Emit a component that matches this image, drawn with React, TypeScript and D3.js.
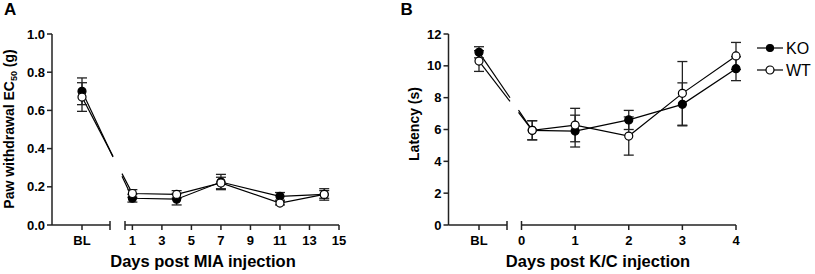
import React from "react";
import * as d3 from "d3";

// Panel A: MIA
const miaX = ["BL", 1, 4, 7, 11, 14];
const miaKO = [0.70, 0.14, 0.135, 0.225, 0.15, 0.16];
const miaKOErr = [0.07, 0.02, 0.03, 0.04, 0.02, 0.03];
const miaWT = [0.67, 0.165, 0.16, 0.22, 0.115, 0.16];
const miaWTErr = [0.075, 0.02, 0.02, 0.03, 0.01, 0.02];
const miaYTicks = [0, 0.2, 0.4, 0.6, 0.8, 1.0];
const miaXTicks = [1, 3, 5, 7, 9, 11, 13, 15];

// Panel B: K/C
const kcX = ["BL", 0.2, 1, 2, 3, 4];
const kcKO = [10.85, 5.95, 5.9, 6.6, 7.58, 9.82];
const kcKOErr = [0.35, 0.6, 1.0, 0.6, 1.35, 0.75];
const kcWT = [10.3, 5.95, 6.28, 5.59, 8.27, 10.62];
const kcWTErr = [0.65, 0.6, 1.05, 1.2, 2.0, 0.85];
const kcYTicks = [0, 2, 4, 6, 8, 10, 12];
const kcXTicks = [0, 1, 2, 3, 4];

const seriesNames = ["KO", "WT"];

const FONT = "Arial, 'Liberation Sans', Helvetica, sans-serif";

type PanelProps = {
  letter: string;
  axisX: number;
  blX: number;
  blEnd: number;
  segStart: number;
  segEnd: number;
  dayDomain: [number, number];
  yDomain: [number, number];
  yTicks: number[];
  yFmt: (v: number) => string;
  xTicks: number[];
  startTick: boolean;
  xs: (string | number)[];
  ko: number[];
  koErr: number[];
  wt: number[];
  wtErr: number[];
  yTitle: React.ReactNode;
  yTitleX: number;
  yTitleY: number;
  xTitle: string;
  xTitleX: number;
};

function Panel(p: PanelProps) {
  const y = d3.scaleLinear().domain(p.yDomain).range([225, 34]);
  const xd = d3.scaleLinear().domain(p.dayDomain).range([p.segStart, p.segEnd]);
  const xOf = (v: string | number) => (v === "BL" ? p.blX : xd(v as number));
  const gapL = p.blEnd + 3;
  const gapR = p.segStart - 3;
  const axisY = 225;
  const stroke = "#222";

  const lineWithGap = (vals: number[], key: string) => {
    const pts = p.xs.map((v, i) => [xOf(v), y(vals[i])] as [number, number]);
    const [x0, y0] = pts[0];
    const [x1, y1] = pts[1];
    const t = (xx: number) => y0 + ((y1 - y0) * (xx - x0)) / (x1 - x0);
    const lg = d3.line();
    return (
      <g key={key}>
        <path d={lg([[x0, y0], [gapL, t(gapL)]])!} stroke="#000" strokeWidth={1.2} fill="none" />
        <path d={lg([[gapR, t(gapR)], ...pts.slice(1)])!} stroke="#000" strokeWidth={1.2} fill="none" />
      </g>
    );
  };

  const errBars = (vals: number[], errs: number[], key: string) =>
    p.xs.map((v, i) => {
      const cx = xOf(v);
      const top = y(vals[i] + errs[i]);
      const bot = y(vals[i] - errs[i]);
      return (
        <g key={key + i} stroke="#222" strokeWidth={1.3}>
          <line x1={cx} x2={cx} y1={top} y2={bot} />
          <line x1={cx - 5} x2={cx + 5} y1={top} y2={top} />
          <line x1={cx - 5} x2={cx + 5} y1={bot} y2={bot} />
        </g>
      );
    });

  const markers = (vals: number[], filled: boolean, key: string) =>
    p.xs.map((v, i) => (
      <circle
        key={key + i}
        cx={xOf(v)}
        cy={y(vals[i])}
        r={4}
        fill={filled ? "#000" : "#fff"}
        stroke="#000"
        strokeWidth={1.2}
      />
    ));

  return (
    <g fontFamily={FONT}>
      <text x={p.axisX - 48} y={15} fontSize={17} fontWeight="bold">{p.letter}</text>
      {/* y axis */}
      <line x1={p.axisX} x2={p.axisX} y1={y(p.yDomain[1])} y2={axisY} stroke={stroke} strokeWidth={1.5} />
      {p.yTicks.map((t) => (
        <g key={"yt" + t}>
          <line x1={p.axisX - 5} x2={p.axisX} y1={y(t)} y2={y(t)} stroke={stroke} strokeWidth={1.5} />
          <text x={p.axisX - 7} y={y(t) + 4.5} textAnchor="end" fontSize={13} fontWeight="bold">{p.yFmt(t)}</text>
        </g>
      ))}
      {/* x axis BL segment */}
      <line x1={p.axisX} x2={p.blEnd} y1={axisY} y2={axisY} stroke={stroke} strokeWidth={1.5} />
      <line x1={p.blX} x2={p.blX} y1={axisY} y2={axisY + 5} stroke={stroke} strokeWidth={1.5} />
      <line x1={p.blEnd} x2={p.blEnd} y1={axisY - 4} y2={axisY + 5} stroke={stroke} strokeWidth={1.5} />
      <text x={p.blX} y={245} textAnchor="middle" fontSize={13} fontWeight="bold">BL</text>
      {/* x axis day segment */}
      <line x1={p.segStart} x2={p.segEnd} y1={axisY} y2={axisY} stroke={stroke} strokeWidth={1.5} />
      {p.startTick && (
        <line x1={p.segStart} x2={p.segStart} y1={axisY - 4} y2={axisY + 5} stroke={stroke} strokeWidth={1.5} />
      )}
      {p.xTicks.map((t) => (
        <g key={"xt" + t}>
          <line x1={xd(t)} x2={xd(t)} y1={t === p.dayDomain[0] ? axisY - 4 : axisY} y2={axisY + 5} stroke={stroke} strokeWidth={1.5} />
          <text x={xd(t)} y={245} textAnchor="middle" fontSize={13} fontWeight="bold">{t}</text>
        </g>
      ))}
      {/* titles */}
      <text
        transform={`translate(${p.yTitleX},${p.yTitleY}) rotate(-90)`}
        textAnchor="middle"
        fontSize={14}
        fontWeight="bold"
      >
        {p.yTitle}
      </text>
      <text x={p.xTitleX} y={266.5} textAnchor="middle" fontSize={16.5} fontWeight="bold">{p.xTitle}</text>
      {/* data */}
      {lineWithGap(p.ko, "lko")}
      {lineWithGap(p.wt, "lwt")}
      {errBars(p.ko, p.koErr, "eko")}
      {errBars(p.wt, p.wtErr, "ewt")}
      {markers(p.ko, true, "mko")}
      {markers(p.wt, false, "mwt")}
    </g>
  );
}

export default function App() {
  return (
    <svg
      width={815}
      height={274}
      style={{ position: "absolute", left: 0, top: 0, background: "#fff" }}
    >
      <rect width={815} height={274} fill="#fff" />
      <Panel
        letter="A"
        axisX={52}
        blX={82}
        blEnd={110}
        segStart={125}
        segEnd={339}
        dayDomain={[0.5, 15]}
        yDomain={[0, 1]}
        yTicks={miaYTicks}
        yFmt={d3.format(".1f")}
        xTicks={miaXTicks}
        startTick={true}
        xs={miaX}
        ko={miaKO}
        koErr={miaKOErr}
        wt={miaWT}
        wtErr={miaWTErr}
        yTitle={
          <>
            Paw withdrawal EC<tspan fontSize={9} dy={3}>50</tspan>
            <tspan dy={-3}> (g)</tspan>
          </>
        }
        yTitleX={13.5}
        yTitleY={129}
        xTitle="Days post MIA injection"
        xTitleX={203}
      />
      <Panel
        letter="B"
        axisX={448.5}
        blX={479}
        blEnd={507}
        segStart={521.5}
        segEnd={736}
        dayDomain={[0, 4]}
        yDomain={[0, 12]}
        yTicks={kcYTicks}
        yFmt={d3.format("d")}
        xTicks={kcXTicks}
        startTick={false}
        xs={kcX}
        ko={kcKO}
        koErr={kcKOErr}
        wt={kcWT}
        wtErr={kcWTErr}
        yTitle="Latency (s)"
        yTitleX={419}
        yTitleY={124}
        xTitle="Days post K/C injection"
        xTitleX={598}
      />
      {/* legend */}
      <g fontFamily={FONT}>
        {seriesNames.map((n, i) => (
          <g key={n} transform={`translate(0,${48 + i * 22})`}>
            <line x1={757} x2={783} y1={0} y2={0} stroke="#000" strokeWidth={1.2} />
            <circle cx={770} cy={0} r={i === 0 ? 3.5 : 4} fill={i === 0 ? "#000" : "#fff"} stroke="#000" strokeWidth={1.2} />
            <text x={786} y={6} fontSize={16}>{n}</text>
          </g>
        ))}
      </g>
    </svg>
  );
}
